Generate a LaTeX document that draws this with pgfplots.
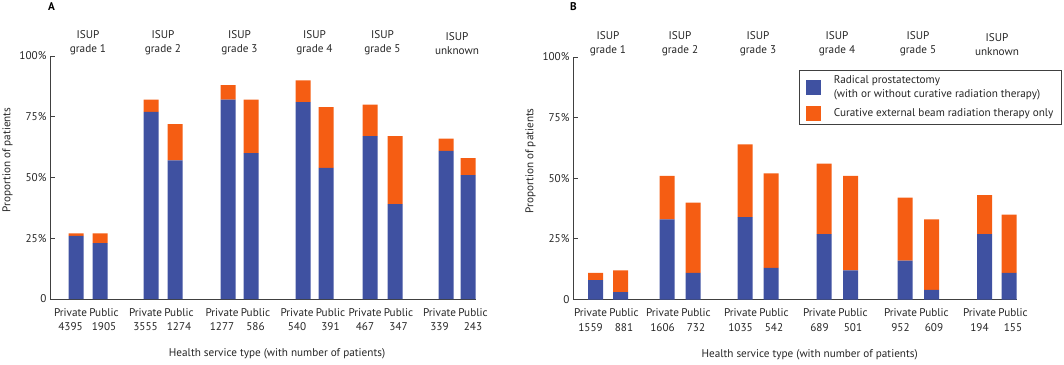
\documentclass[border=0pt]{standalone}
\usepackage{pgfplots}
\pgfplotsset{compat=1.18}
\usepackage{fontspec}
\setmainfont{PT Sans}
\definecolor{rpblue}{HTML}{3F51A1}
\definecolor{rtorange}{HTML}{F55D13}
\definecolor{axgray}{HTML}{404040}
\newcommand{\chartfont}{\fontsize{11.2}{14.3}\selectfont}
\tikzset{grp/.style={align=center, anchor=south, inner sep=0pt, font=\chartfont, text=black!85, yshift=1pt}}
\pgfplotsset{
  panel/.style={
    scale only axis, ybar stacked, bar width=15pt,
    ymin=0, ymax=100,
    ytick={0,25,50,75,100}, yticklabels={0,25\%,50\%,75\%,100\%},
    axis x line*=bottom, axis y line*=left,
    axis line style={axgray, line width=0.8pt},
    tick align=inside, major tick length=5pt,
    ytick style={axgray, line width=0.8pt}, xtick style={draw=none},
    tick label style={font=\chartfont, text=black!85},
    xticklabel style={align=center, yshift=-6pt},
    label style={font=\chartfont, text=black!85},
    ylabel={Proportion of patients},
    ylabel style={at={(ticklabel cs:0.572)}},
    xlabel={Health service type (with number of patients)},
    xlabel style={at={(axis description cs:0.533,0)}, anchor=north, yshift=-46pt},
    clip=false,
    legend image code/.code={\path[##1] (0pt,-7.5pt) rectangle (15pt,7.5pt);},
  },
}
\pgfplotstableread{
x   rp  rt
76  26  1
100 23  4
151 77  5
175 57  15
228 82  6
251 60  22
303 81  9
326 54  25
370 67  13
395 39  28
446 61  5
468 51  7
}\tabA
\pgfplotstableread{
x     rp  rt
595.5 8   3
620.7 3   9
667   33  18
693   11  29
745   34  30
771   13  39
824   27  29
850.5 12  39
905   16  26
931.7 4   29
984.5 27  16
1009  11  24
}\tabB
\begin{document}
\begin{tikzpicture}
\useasboundingbox (0,0) rectangle (1064pt,364pt);
\begin{axis}[panel, at={(50pt,65pt)}, anchor=south west,
  width=426pt, height=243pt, xmin=50, xmax=476,
  xtick={70.5,104,145.5,179,222,255.5,297,330.5,365,398.5,439.5,473},
  xticklabels={Private\\4395,Public\\1905,Private\\3555,Public\\1274,Private\\1277,Public\\586,Private\\540,Public\\391,Private\\467,Public\\347,Private\\339,Public\\243}]
\addplot[fill=rpblue, draw=none] table[x=x, y=rp] {\tabA};
\addplot[fill=rtorange, draw=none] table[x=x, y=rt] {\tabA};
\node[grp] at (axis cs:88,100) {ISUP\\grade 1};
\node[grp] at (axis cs:163,100) {ISUP\\grade 2};
\node[grp] at (axis cs:239.5,100) {ISUP\\grade 3};
\node[grp] at (axis cs:314.5,100) {ISUP\\grade 4};
\node[grp] at (axis cs:382.5,100) {ISUP\\grade 5};
\node[grp] at (axis cs:457,100) {ISUP\\unknown};
\end{axis}
\begin{axis}[panel, at={(573pt,64.5pt)}, anchor=south west,
  width=444pt, height=242.5pt, xmin=573, xmax=1017,
  xtick={590.5,624,662.5,696,740.5,774,819.5,853,900.5,934,979.5,1013},
  xticklabels={Private\\1559,Public\\881,Private\\1606,Public\\732,Private\\1035,Public\\542,Private\\689,Public\\501,Private\\952,Public\\609,Private\\194,Public\\155},
  legend style={at={(axis description cs:1.101,0.9465)}, anchor=north east,
    draw=axgray, line width=0.8pt, font=\chartfont, text=black!85,
    inner xsep=6pt, inner ysep=3pt,
    cells={anchor=west, align=left}, column sep=11pt, row sep=5pt}]
\addplot[fill=rpblue, draw=none] table[x=x, y=rp] {\tabB};
\addlegendentry{Radical prostatectomy\\(with or without curative radiation therapy)}
\addplot[fill=rtorange, draw=none] table[x=x, y=rt] {\tabB};
\addlegendentry{Curative external beam radiation therapy only}
\node[grp] at (axis cs:608,100) {ISUP\\grade 1};
\node[grp] at (axis cs:680,100) {ISUP\\grade 2};
\node[grp] at (axis cs:758,100) {ISUP\\grade 3};
\node[grp] at (axis cs:837,100) {ISUP\\grade 4};
\node[grp] at (axis cs:918,100) {ISUP\\grade 5};
\node[grp] at (axis cs:997,100) {ISUP\\unknown};
\end{axis}
\node[anchor=north west, inner sep=0pt, font=\bfseries\chartfont] at (48pt,362pt) {A};
\node[anchor=north west, inner sep=0pt, font=\bfseries\chartfont] at (570pt,362pt) {B};
\end{tikzpicture}
\end{document}
